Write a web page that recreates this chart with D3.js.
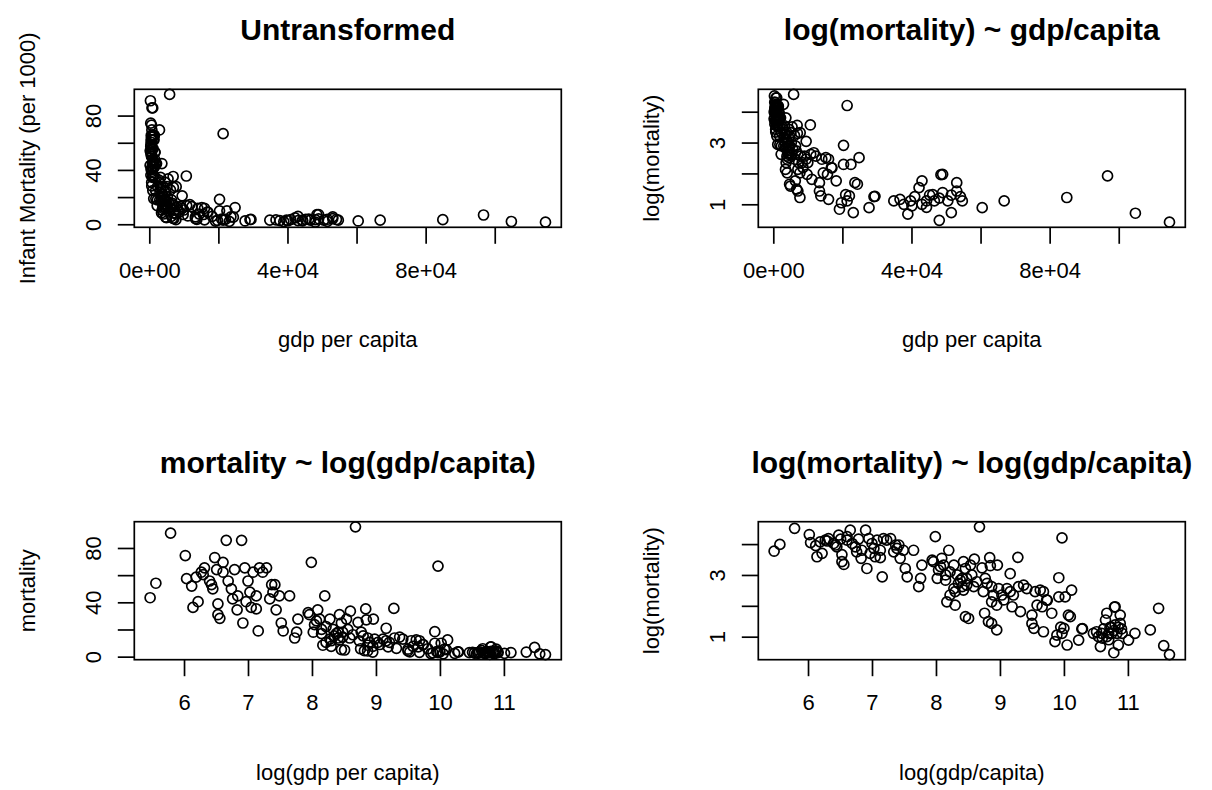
<!DOCTYPE html>
<html>
<head>
<meta charset="utf-8">
<script src="https://cdn.jsdelivr.net/npm/d3@7"></script>
<style>
  html, body { margin: 0; padding: 0; background: #fff; }
  svg text { font-family: "Liberation Sans", Arial, Helvetica, sans-serif; fill: #000; }
</style>
</head>
<body>
<svg id="chart" width="1212" height="790"></svg>
<script>
// values (natural logs)
const logGdp = [
5.47,5.56,5.79,6.02,6.04,6.12,6.14,6.22,6.27,6.30,6.43,6.48,6.51,6.53,6.53,6.56,6.61,6.66,6.69,6.79,
6.83,6.90,6.92,6.95,6.97,7.03,7.05,7.13,7.16,7.18,7.23,7.29,7.34,7.42,7.44,7.49,7.52,7.55,7.65,7.73,
7.76,7.78,7.99,7.96,8.02,8.07,8.09,8.17,8.20,8.22,8.28,8.30,8.38,8.43,8.46,8.51,7.94,8.04,8.12,8.15,
8.28,8.33,8.35,8.41,8.30,8.22,8.15,8.48,8.43,6.19,6.32,6.40,6.45,6.61,6.74,6.76,6.84,7.00,7.08,7.13,
7.37,7.39,8.60,8.68,8.84,8.85,8.96,8.72,8.77,8.59,8.64,8.74,8.80,8.87,8.90,8.98,8.87,8.95,8.82,8.87,
8.95,8.76,9.97,9.28,9.16,9.16,9.19,9.21,9.29,9.32,9.37,9.42,9.50,9.50,9.53,9.55,9.58,9.63,9.66,9.68,
9.73,9.81,9.86,9.89,9.92,9.92,9.97,10.00,10.02,10.05,10.07,10.10,10.12,10.23,10.28,10.46,10.51,10.57,10.59,10.65,
10.67,10.70,10.75,10.78,10.80,10.80,10.83,10.85,10.88,10.88,10.91,11.01,11.11,11.35,11.48,11.56,11.65,10.67,10.54,9.68,
9.03,9.06,9.11,8.41,8.48,8.56,8.46,8.54,10.72,10.62,10.78,10.85,10.70,10.90,10.60,9.95,10.29,10.74,10.79,9.74
];
const logMortality = [
3.77,3.99,4.51,4.31,4.05,3.95,3.59,3.70,4.13,4.10,3.97,4.29,4.16,3.66,3.43,3.34,4.13,4.45,4.02,4.16,
3.54,4.45,3.21,4.18,3.70,3.86,3.59,3.56,2.94,4.18,4.13,4.18,3.75,3.97,3.54,3.80,3.21,2.94,3.80,2.62,
2.89,3.32,4.24,3.43,2.89,3.27,3.54,2.13,3.80,3.10,2.56,2.02,2.83,3.43,1.65,1.59,3.48,3.16,3.32,3.00,
3.32,3.00,2.73,2.62,2.46,2.35,2.83,2.89,2.51,4.07,4.18,4.02,3.91,4.24,3.91,3.75,3.80,4.02,4.13,3.80,
3.97,3.86,3.51,4.56,3.56,3.30,3.32,3.23,2.89,2.62,2.78,2.46,2.73,2.62,2.35,2.56,2.13,2.02,1.49,1.43,
1.22,1.76,4.20,3.57,3.04,2.46,1.97,2.35,2.62,1.81,2.67,2.56,1.70,1.43,1.27,2.46,2.02,2.51,1.97,1.16,
2.19,1.76,0.84,1.05,2.91,2.29,1.11,1.27,2.29,0.73,1.70,1.65,2.51,0.89,1.25,1.11,1.16,0.68,1.11,1.54,
1.76,1.11,1.11,0.48,1.97,1.38,1.11,0.73,1.70,1.43,1.11,0.89,1.11,1.22,1.92,0.71,0.42,1.00,1.00,2.46,
2.35,2.19,2.56,2.89,2.67,3.00,3.21,3.32,1.30,1.25,1.20,1.30,0.90,1.25,0.95,1.31,1.26,1.31,1.96,2.18
];

const gdp = logGdp.map(Math.exp);
const mortality = logMortality.map(Math.exp);

const titles = ["Untransformed", "log(mortality) ~ gdp/capita", "mortality ~ log(gdp/capita)", "log(mortality) ~ log(gdp/capita)"];
const xLabels = ["gdp per capita", "gdp per capita", "log(gdp per capita)", "log(gdp/capita)"];
const yLabels = ["Infant Mortality (per 1000)", "log(mortality)", "mortality", "log(mortality)"];

const gdpTicks = [0, 20000, 40000, 60000, 80000, 100000];
const gdpTickLabels = ["0e+00", "", "4e+04", "", "8e+04", ""];
const mortTicks = [0, 20, 40, 60, 80];
const mortTickLabels = ["0", "", "40", "", "80"];
const logMortTicks = [1, 2, 3, 4];
const logMortTickLabels = ["1", "", "3", ""];
const logGdpTicks = [6, 7, 8, 9, 10, 11];
const logGdpTickLabels = ["6", "7", "8", "9", "10", "11"];

const FS = 22, TFS = 30, LINE = 33;
const boxes = [
  {l: 134.3, r: 561.3, t: 89.3, b: 227.3},
  {l: 758.3, r: 1185.3, t: 89.3, b: 227.3},
  {l: 134.3, r: 561.3, t: 521.7, b: 659.7},
  {l: 758.3, r: 1185.3, t: 521.7, b: 659.7}
];

const panels = [
  {xs: gdp, ys: mortality, xt: gdpTicks, xl: gdpTickLabels, yt: mortTicks, yl: mortTickLabels},
  {xs: gdp, ys: logMortality, xt: gdpTicks, xl: gdpTickLabels, yt: logMortTicks, yl: logMortTickLabels},
  {xs: logGdp, ys: mortality, xt: logGdpTicks, xl: logGdpTickLabels, yt: mortTicks, yl: mortTickLabels},
  {xs: logGdp, ys: logMortality, xt: logGdpTicks, xl: logGdpTickLabels, yt: logMortTicks, yl: logMortTickLabels}
];

function rDomain(arr) {
  const [a, b] = d3.extent(arr);
  const d = b - a;
  return [a - 0.04 * d, b + 0.04 * d];
}

const svg = d3.select("#chart");

panels.forEach((p, i) => {
  const bx = boxes[i];
  const x = d3.scaleLinear().domain(rDomain(p.xs)).range([bx.l, bx.r]);
  const y = d3.scaleLinear().domain(rDomain(p.ys)).range([bx.b, bx.t]);
  const g = svg.append("g");

  // points
  g.append("g").selectAll("circle")
    .data(p.xs.map((v, k) => [v, p.ys[k]]))
    .join("circle")
    .attr("cx", d => x(d[0]))
    .attr("cy", d => y(d[1]))
    .attr("r", 5)
    .attr("fill", "none")
    .attr("stroke", "#000")
    .attr("stroke-width", 1.7);

  // x axis
  const xa = g.append("g")
    .attr("transform", `translate(0,${bx.b})`)
    .call(d3.axisBottom(x).tickValues(p.xt).tickFormat((d, k) => p.xl[k])
      .tickSize(LINE / 2).tickPadding(LINE / 2 + 2));
  xa.attr("font-family", null).attr("font-size", null);
  xa.select(".domain").remove();
  xa.selectAll("line").attr("stroke-width", 1.7);
  xa.selectAll("text").attr("font-size", FS);

  // y axis
  const ya = g.append("g")
    .attr("transform", `translate(${bx.l},0)`)
    .call(d3.axisLeft(y).tickValues(p.yt).tickFormat((d, k) => p.yl[k])
      .tickSize(LINE / 2));
  ya.attr("font-family", null).attr("font-size", null);
  ya.select(".domain").remove();
  ya.selectAll("line").attr("stroke-width", 1.7);
  ya.selectAll("text")
    .attr("x", null).attr("dy", null)
    .attr("transform", `translate(${-LINE},0) rotate(-90)`)
    .attr("text-anchor", "middle")
    .attr("font-size", FS);

  // box
  g.append("rect")
    .attr("x", bx.l).attr("y", bx.t)
    .attr("width", bx.r - bx.l).attr("height", bx.b - bx.t)
    .attr("fill", "none").attr("stroke", "#000").attr("stroke-width", 1.7);

  const cx = (bx.l + bx.r) / 2, cy = (bx.t + bx.b) / 2;
  // title
  g.append("text").attr("x", cx).attr("y", bx.t - 49)
    .attr("text-anchor", "middle").attr("font-weight", "bold").attr("font-size", TFS)
    .text(titles[i]);
  // x label
  g.append("text").attr("x", cx).attr("y", bx.b + 3 * LINE + 0.72 * FS + 5)
    .attr("text-anchor", "middle").attr("font-size", FS)
    .text(xLabels[i]);
  // y label
  g.append("text")
    .attr("transform", `translate(${bx.l - 3 * LINE},${cy}) rotate(-90)`)
    .attr("text-anchor", "middle").attr("font-size", FS)
    .text(yLabels[i]);
});
</script>
</body>
</html>
